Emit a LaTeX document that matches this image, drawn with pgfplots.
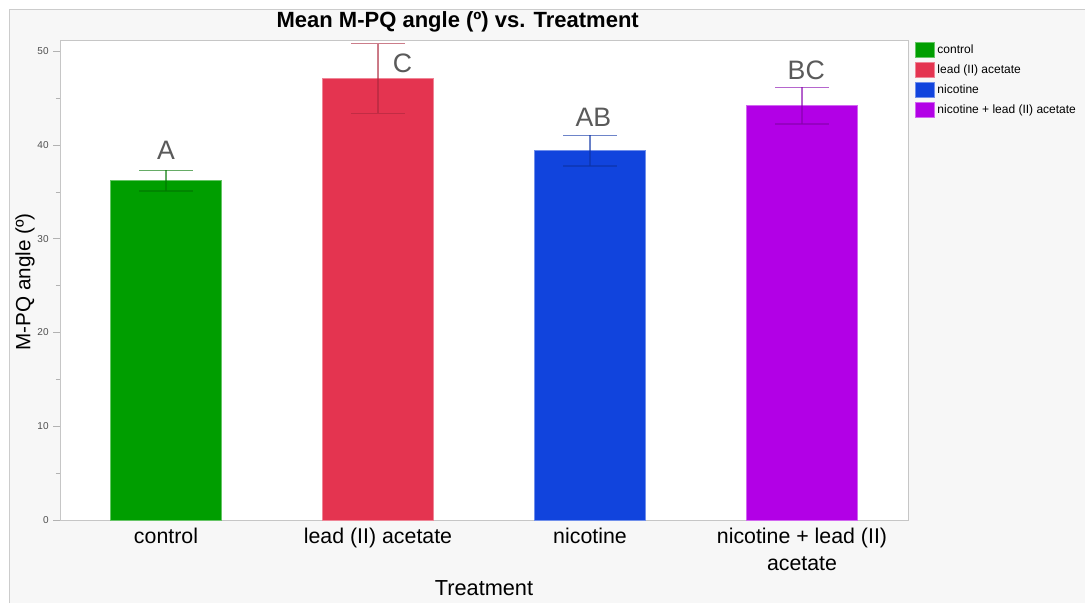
\documentclass[border=0pt]{standalone}
\usepackage{pgfplots}
\pgfplotsset{compat=1.18}
\usepackage{fontspec}
\setmainfont{Liberation Sans}
\definecolor{cgreen}{RGB}{0,158,0}
\definecolor{cred}{RGB}{228,52,80}
\definecolor{cblue}{RGB}{17,68,221}
\definecolor{cpurple}{RGB}{178,0,230}
\definecolor{panel}{RGB}{247,247,247}
\definecolor{lettergray}{RGB}{90,90,90}
\definecolor{tickgray}{RGB}{80,80,80}
\begin{document}
\begin{tikzpicture}
\begin{scope}[x=0.75pt,y=-0.75pt]
\path[use as bounding box] (0,0) rectangle (1085,609);
\fill[white] (0,0) rectangle (1085,609);
\fill[panel] (9,10) rectangle (1085,603);
\draw[gray!40, line width=0.75pt] (9,603) -- (9,10) -- (1085,10);
\end{scope}
\begin{axis}[
  at={(45pt,-390pt)}, anchor=south west,
  scale only axis, width=636pt, height=360pt,
  xmin=-0.5, xmax=3.5, ymin=0, ymax=51.2,
  ybar, bar width=0.523, bar shift=0pt,
  clip=false,
  axis background/.style={fill=white},
  axis line style={draw=gray!45, line width=0.6pt},
  xtick={0,1,2,3},
  xticklabels={control, lead (II) acetate, nicotine, {nicotine + lead (II)\\acetate}},
  x tick label style={font=\fontsize{16}{20}\selectfont, align=center, text=black, yshift=2.5pt},
  xtick style={draw=none},
  ytick={0,10,20,30,40,50},
  minor ytick={5,15,25,35,45},
  ytick pos=left,
  y tick label style={font=\fontsize{7.5}{9}\selectfont, text=tickgray},
  /pgf/number format/assume math mode=true,
  ytick style={draw=gray!60, line width=0.5pt},
  tick align=outside,
  major tick length=5pt, minor tick length=3pt,
  every axis title shift=0pt,
  title={Mean M-PQ angle (º) vs. Treatment},
  title style={font=\bfseries\fontsize{16.5}{20}\selectfont, at={(0.469,1.0375)}, anchor=center},
  ylabel={M-PQ angle (º)},
  ylabel style={font=\fontsize{15.5}{18}\selectfont, at={(-0.0413,0.496)}, anchor=center},
  xlabel={Treatment},
  xlabel style={font=\fontsize{16.3}{20}\selectfont, at={(0.5,-0.142)}, anchor=center},
  legend style={at={(1.006,1)}, anchor=north west, draw=none, fill=none,
    font=\fontsize{9}{11}\selectfont, row sep=3pt, inner sep=1.5pt,
    cells={anchor=west}},
  legend image code/.code={\fill[#1] (0pt,-5.6pt) rectangle (14pt,5.6pt);},
  error bars/y dir=both, error bars/y explicit,
]
\addplot[fill=cgreen, draw=cgreen!60!white, line width=0.6pt,
  error bars/error bar style={draw=cgreen!75!black, opacity=0.6, line width=0.9pt},
  error bars/error mark options={rotate=90, mark size=19.9pt, draw=cgreen!75!black, opacity=0.6, line width=0.9pt}]
  coordinates {(0,36.2) +- (0,1.1)};
\addlegendentry{control}
\addplot[fill=cred, draw=cred!60!white, line width=0.6pt,
  error bars/error bar style={draw=cred!75!black, opacity=0.6, line width=0.9pt},
  error bars/error mark options={rotate=90, mark size=19.9pt, draw=cred!75!black, opacity=0.6, line width=0.9pt}]
  coordinates {(1,47.1) +- (0,3.7)};
\addlegendentry{lead (II) acetate}
\addplot[fill=cblue, draw=cblue!60!white, line width=0.6pt,
  error bars/error bar style={draw=cblue!75!black, opacity=0.6, line width=0.9pt},
  error bars/error mark options={rotate=90, mark size=19.9pt, draw=cblue!75!black, opacity=0.6, line width=0.9pt}]
  coordinates {(2,39.4) +- (0,1.65)};
\addlegendentry{nicotine}
\addplot[fill=cpurple, draw=cpurple!60!white, line width=0.6pt,
  error bars/error bar style={draw=cpurple!75!black, opacity=0.6, line width=0.9pt},
  error bars/error mark options={rotate=90, mark size=19.9pt, draw=cpurple!75!black, opacity=0.6, line width=0.9pt}]
  coordinates {(3,44.2) +- (0,1.95)};
\addlegendentry{nicotine + lead (II) acetate}
\node[font=\fontsize{20}{24}\selectfont, text=lettergray] at (axis cs:0,39.4) {A};
\node[font=\fontsize{20}{24}\selectfont, text=lettergray] at (axis cs:1.116,48.7) {C};
\node[font=\fontsize{20}{24}\selectfont, text=lettergray] at (axis cs:2.016,43.0) {AB};
\node[font=\fontsize{20}{24}\selectfont, text=lettergray] at (axis cs:3.02,48.0) {BC};
\end{axis}
\end{tikzpicture}
\end{document}
